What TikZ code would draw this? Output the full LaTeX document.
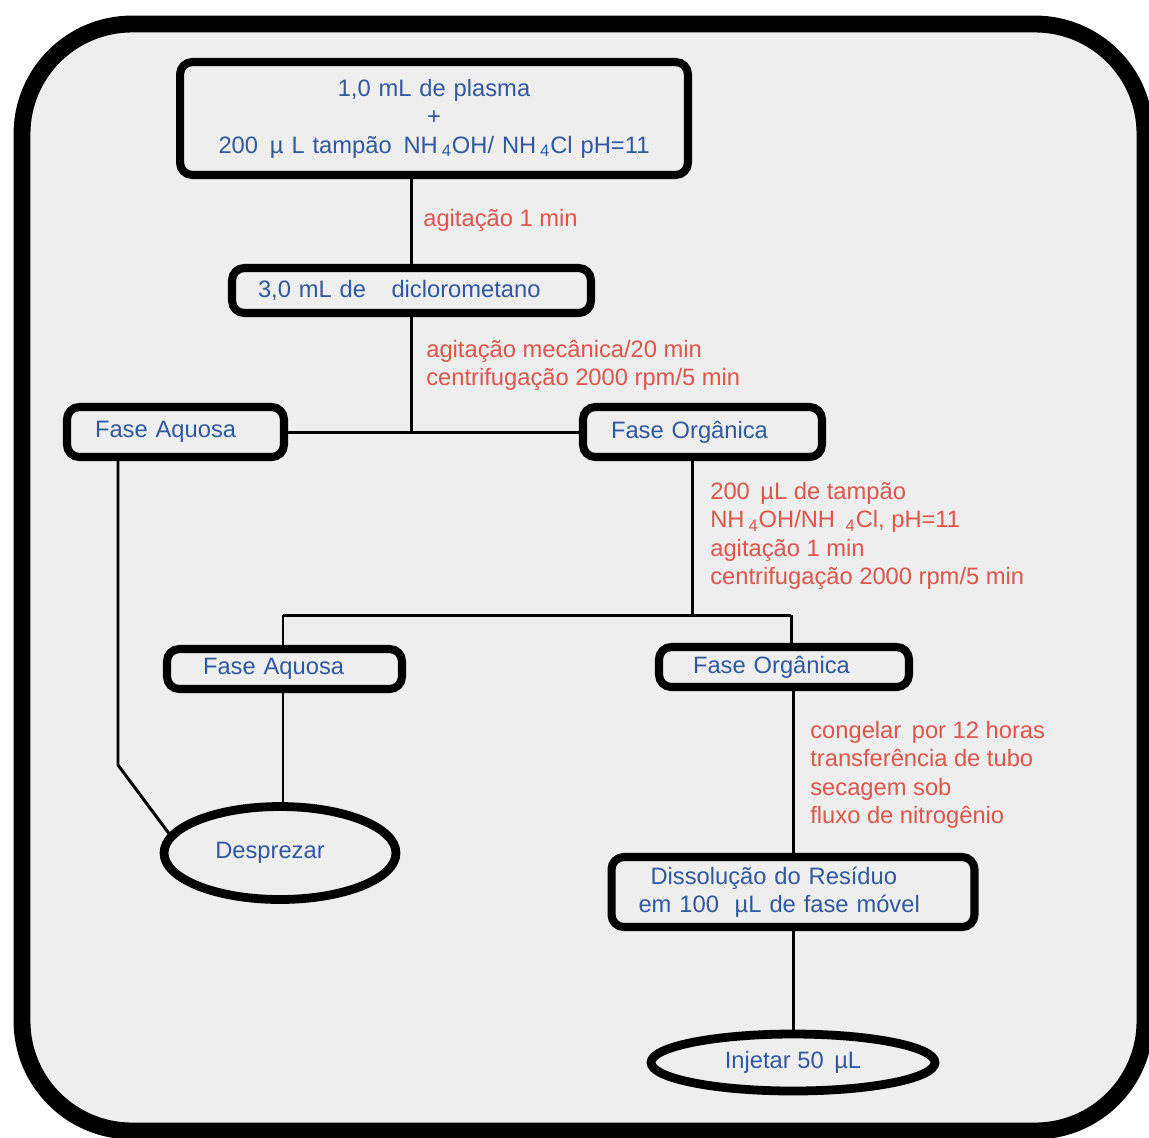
\documentclass[tikz,border=0pt]{standalone}
\usepackage{fontspec}
\setmainfont{Liberation Sans}
\usetikzlibrary{shapes.geometric,calc}
\definecolor{txtblue}{RGB}{47,88,160}
\definecolor{txtred}{RGB}{222,85,75}
\definecolor{paper}{RGB}{238,238,238}
\tikzset{
  base/.style={font=\fontsize{13.5}{16.2}\selectfont},
  box/.style={base, draw=black, line width=4.6pt, rounded corners=7pt, text=txtblue, align=left, inner ysep=0pt},
  oval/.style={base, ellipse, draw=black, line width=5pt, text=txtblue, inner sep=0pt},
  note/.style={base, text=txtred, align=left, inner sep=0pt, anchor=west},
  link/.style={draw=black, line width=1.7pt},
  frame/.style={draw=black, line width=9.6pt, rounded corners=2.2cm, fill=paper}
}
\begin{document}
\begin{tikzpicture}[x=0.02cm, y=-0.02cm]
\useasboundingbox (0,0) rectangle (1149,1137);
\path[frame] (22,24) rectangle (1145,1131);

% boxes
\node[box, align=center, minimum width=10.16cm, minimum height=2.26cm, text width=9.5cm, inner xsep=0.33cm] (b1) at (434,118.5)
  {1,0 mL de plasma\\+\\200 \,µ L tampão \,NH\,\textsubscript{4}OH/ NH\,\textsubscript{4}Cl pH=11};
\node[box, minimum width=7.18cm, minimum height=0.9cm, text width=6.14cm, inner xsep=0.52cm] (b2) at (411.5,290.5)
  {3,0 mL de\hspace{0.35cm} diclorometano};
\node[box, minimum width=4.34cm, minimum height=1.0cm, text width=3.22cm, inner xsep=0.56cm] (fa1) at (175.5,432)
  {Fase Aquosa};
\node[box, minimum width=4.78cm, minimum height=1.0cm, text width=3.66cm, inner xsep=0.56cm] (fo1) at (702.5,432)
  {Fase Orgânica};
\node[box, minimum width=4.7cm, minimum height=0.8cm, text width=3.26cm, inner xsep=0.72cm] (fa2) at (284.5,669)
  {Fase Aquosa};
\node[box, minimum width=5.0cm, minimum height=0.8cm, text width=3.64cm, inner xsep=0.68cm] (fo2) at (784,667)
  {Fase Orgânica};
\node[box, minimum width=7.26cm, minimum height=1.4cm, text width=6.18cm, inner xsep=0.54cm] (diss) at (793,892)
  {\hspace*{0.24cm}Dissolução do Resíduo\\em 100 \ µL de fase móvel};

% ovals
\node[oval, minimum width=4.64cm, minimum height=1.86cm] (des) at (280,853) {Desprezar\hspace*{0.4cm}};
\node[oval, minimum width=5.68cm, minimum height=1.14cm] (inj) at (793,1062.5) {Injetar 50 \,µL};

% notes
\node[note] (n1) at (423,220) {agitação 1 min};
\node[note] (n2) at (426,365.5) {agitação mecânica/20 min\\centrifugação 2000 rpm/5 min};
\node[note] (n3) at (710,536) {200 \,µL de tampão\\NH\,\textsubscript{4}OH/NH \,\textsubscript{4}Cl, pH=11\\agitação 1 min\\centrifugação 2000 rpm/5 min};
\node[note] (n4) at (810,775) {congelar \,por 12 horas\\transferência de tubo\\secagem sob\\fluxo de nitrogênio};

% connectors
\draw[link] (b1.south -| b2.north) -- (b2.north);
\draw[link] (b2.south) -- (b2.south |- fa1.east);
\draw[link] (fa1.east) -- (fo1.west);
\coordinate (c1) at (118,765);
\draw[link] (fa1.south -| c1) -- (c1) -- (des.170);
\coordinate (j2) at (692,615);
\draw[link] (fo1.south -| j2) -- (j2);
\coordinate (la) at (283,615);
\coordinate (lb) at (791,615);
\draw[link] (la) -- (lb);
\draw[link] (la) -- (la |- fa2.north);
\draw[link] (lb) -- (lb |- fo2.north);
\draw[link] (la |- fa2.south) -- (la |- des.north);
\draw[link] (diss.north |- fo2.south) -- (diss.north);
\draw[link] (diss.south) -- (inj.north);
\end{tikzpicture}
\end{document}
